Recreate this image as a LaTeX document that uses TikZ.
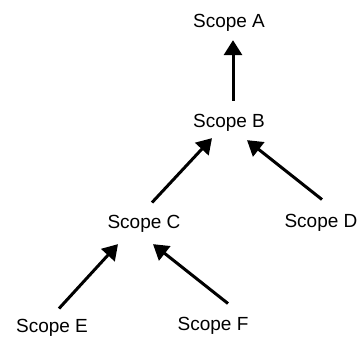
\documentclass[tikz,border=0pt]{standalone}
\usepackage{fontspec}
\setmainfont{Liberation Sans}
\usetikzlibrary{arrows.meta}
\tikzset{
  scopenode/.style={inner sep=0pt,anchor=base},
  scopearrow/.style={line width=3pt,-{Triangle[width=18pt,length=15pt]}}
}
\begin{document}
\begin{tikzpicture}[x=1pt,y=-1pt,font=\fontsize{19}{22}\selectfont]
  \useasboundingbox (0,0) rectangle (361,337);
  % scope nodes, placed on their baselines
  \node[scopenode] (A) at (229,28) {Scope A};
  \node[scopenode] (B) at (229,127) {Scope B};
  \node[scopenode] (C) at (144,228) {Scope C};
  \node[scopenode] (D) at (321,227) {Scope D};
  \node[scopenode] (E) at (52,332) {Scope E};
  \node[scopenode] (F) at (213,330) {Scope F};
  % arrows to the enclosing scope
  \draw[scopearrow] ([xshift=4pt,yshift=13pt]B.north) -- ([xshift=4pt,yshift=-8pt]A.south); %B->A
  \draw[scopearrow] ([xshift=8pt,yshift=12pt]C.north) -- ([xshift=-17pt,yshift=-7pt]B.south); %C->B
  \draw[scopearrow] ([xshift=1pt,yshift=14pt]D.north) -- ([xshift=18pt,yshift=-9pt]B.south); %D->B
  \draw[scopearrow] ([xshift=7pt,yshift=10pt]E.north) -- ([xshift=-26pt,yshift=-12pt]C.south); %E->C
  \draw[scopearrow] ([xshift=15pt,yshift=13pt]F.north) -- ([xshift=9pt,yshift=-12pt]C.south); %F->C
\end{tikzpicture}
\end{document}
